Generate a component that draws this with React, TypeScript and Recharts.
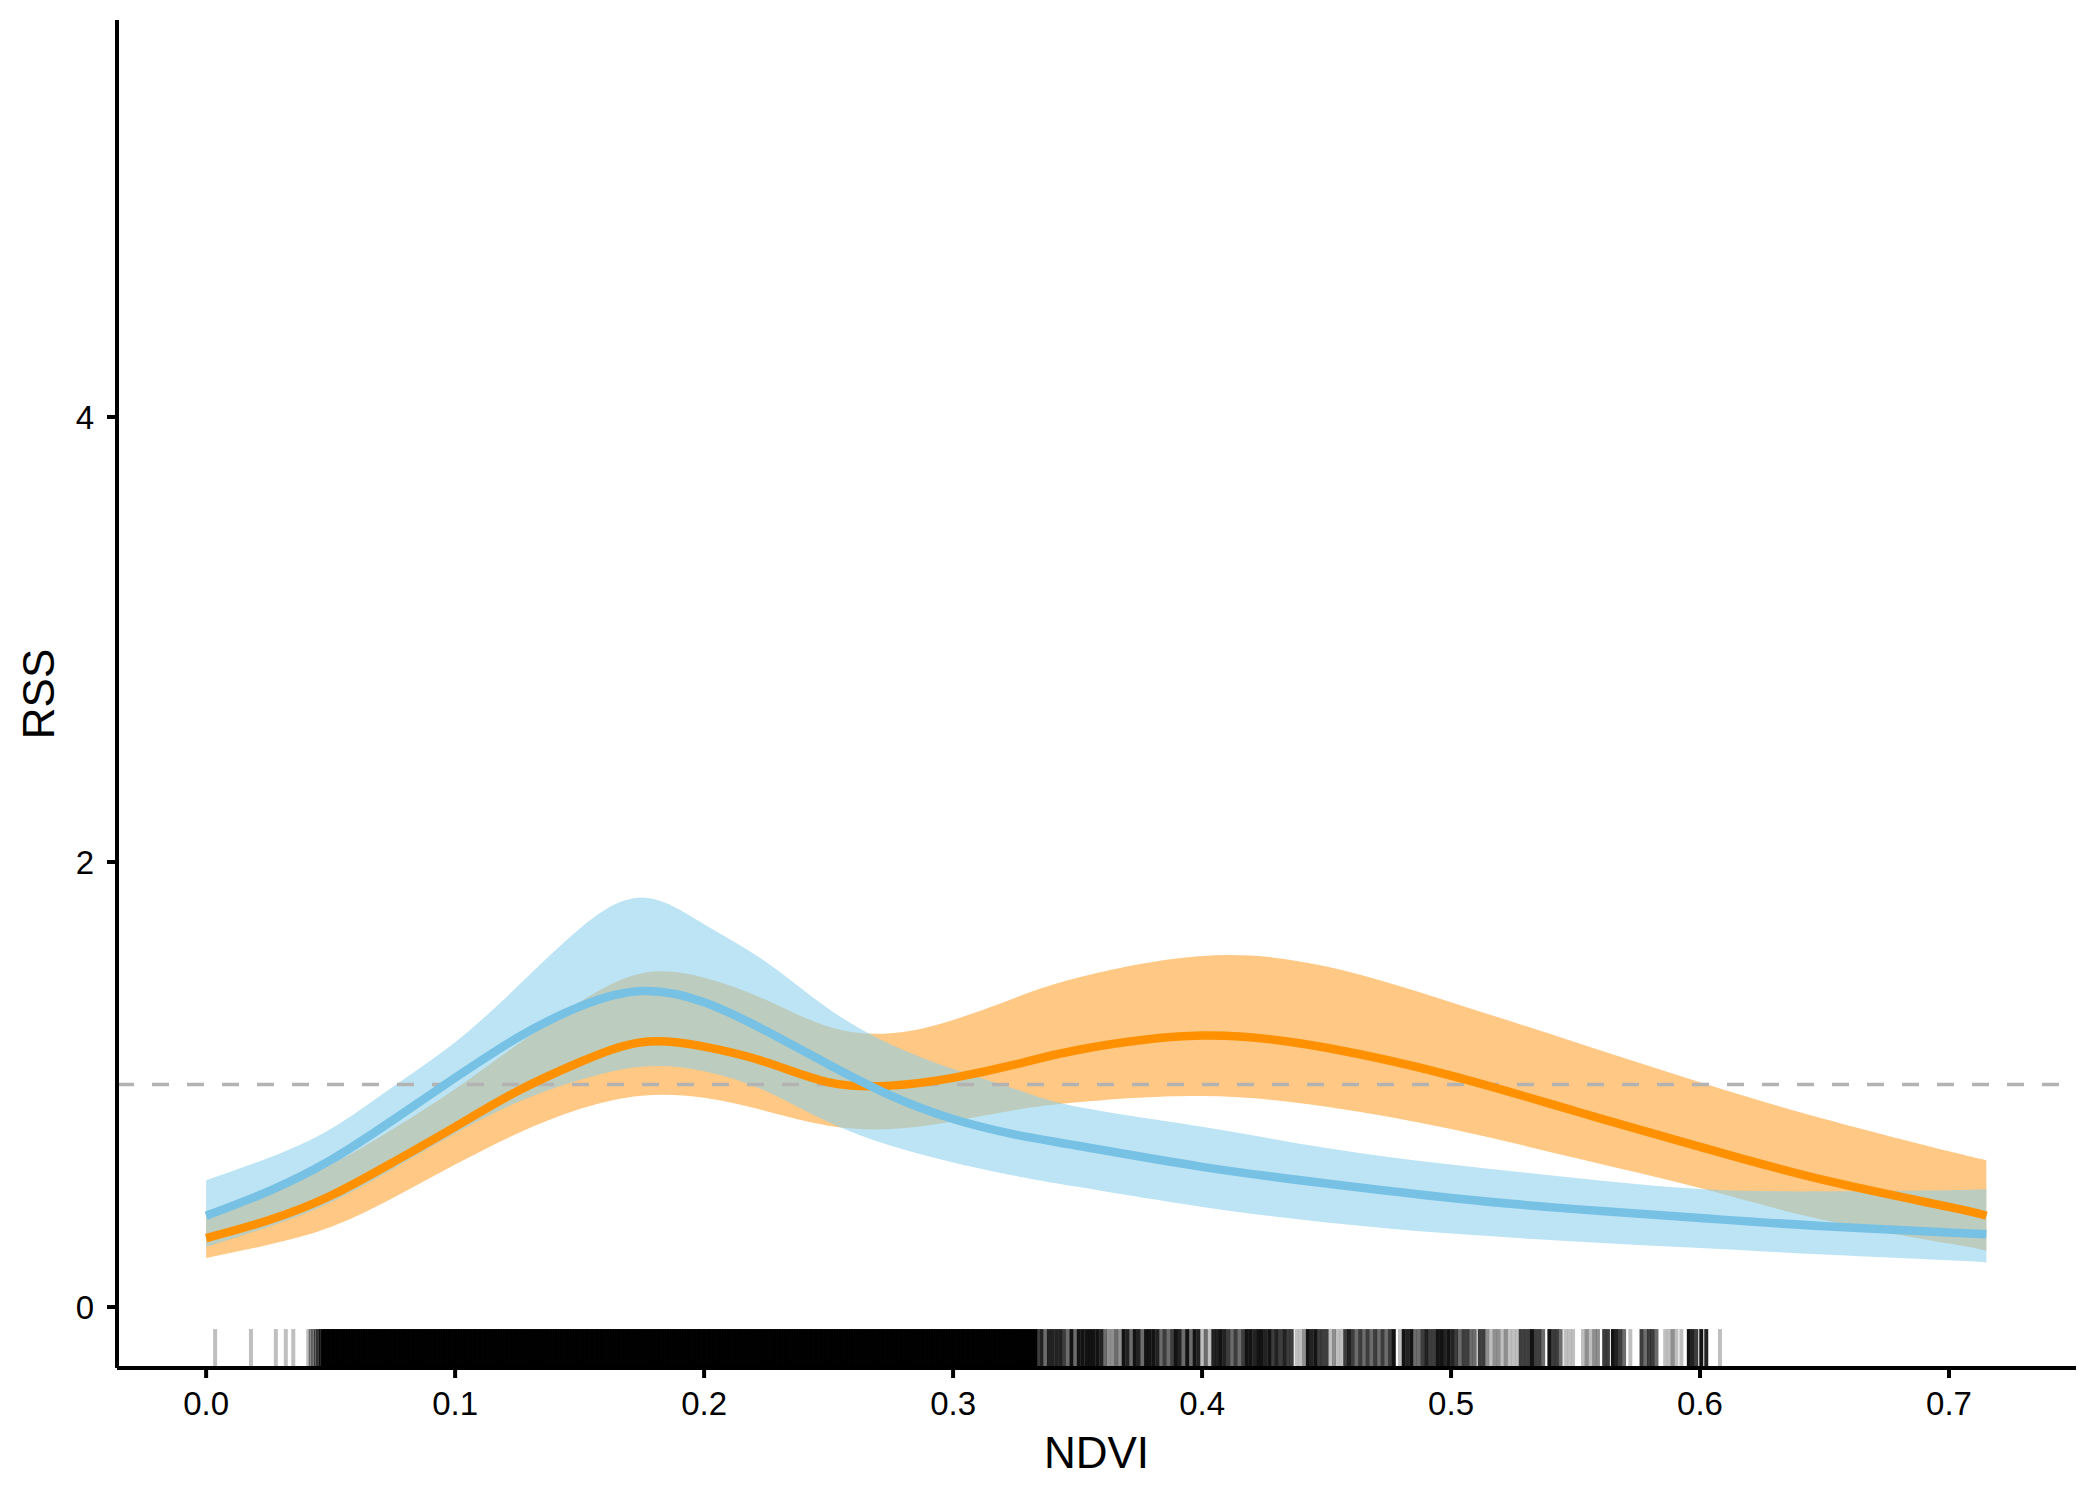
import { ComposedChart, Area, Line, XAxis, YAxis, ReferenceLine } from "recharts";

// smooth fits (RSS vs NDVI), two groups
const ndvi = [0, 0.025, 0.05, 0.075, 0.1, 0.125, 0.15, 0.175, 0.2, 0.225, 0.25, 0.275, 0.3, 0.325, 0.35, 0.4, 0.45, 0.5, 0.55, 0.6, 0.65, 0.7, 0.715];

const blueFit = [0.41, 0.52, 0.66, 0.84, 1.03, 1.21, 1.35, 1.42, 1.37, 1.24, 1.09, 0.95, 0.845, 0.775, 0.725, 0.63, 0.555, 0.49, 0.44, 0.4, 0.363, 0.335, 0.327];
const blueLow = [0.27, 0.36, 0.47, 0.62, 0.78, 0.92, 1.02, 1.08, 1.06, 0.97, 0.83, 0.725, 0.65, 0.59, 0.54, 0.45, 0.38, 0.33, 0.295, 0.265, 0.236, 0.21, 0.2];
const blueHigh = [0.57, 0.67, 0.8, 0.99, 1.19, 1.44, 1.7, 1.84, 1.72, 1.55, 1.34, 1.18, 1.07, 0.98, 0.9, 0.81, 0.715, 0.64, 0.58, 0.53, 0.52, 0.525, 0.53];

const orangeFit = [0.31, 0.39, 0.5, 0.65, 0.81, 0.97, 1.1, 1.19, 1.17, 1.1, 1.01, 0.995, 1.03, 1.09, 1.155, 1.22, 1.165, 1.04, 0.88, 0.72, 0.57, 0.45, 0.41];
const orangeLow = [0.22, 0.28, 0.36, 0.49, 0.64, 0.78, 0.89, 0.95, 0.94, 0.88, 0.815, 0.8, 0.835, 0.885, 0.92, 0.948, 0.9, 0.8, 0.67, 0.535, 0.39, 0.285, 0.253];
const orangeHigh = [0.43, 0.52, 0.64, 0.8, 0.98, 1.18, 1.37, 1.5, 1.48, 1.38, 1.26, 1.23, 1.29, 1.39, 1.48, 1.578, 1.53, 1.37, 1.19, 1.01, 0.845, 0.7, 0.66];

const refLevel = 1;
const xTicks = [0, 0.1, 0.2, 0.3, 0.4, 0.5, 0.6, 0.7];
const yTicks = [0, 2, 4];
const xDomain: [number, number] = [-0.0358, 0.751];
const yDomain: [number, number] = [-0.274, 5.784];
const rugTop = -0.099;

// rug: [ndvi, number of observations drawn on top of each other]
const rugLeft: [number, number][] = [
  [0.0036, 1], [0.018, 1], [0.028, 1], [0.032, 1], [0.035, 1],
  [0.041, 1], [0.042, 2], [0.043, 2], [0.044, 3], [0.045, 4], [0.046, 6],
];
// saturated part of the rug, in thousandths of NDVI
const rugDenseMilli = [
  47, 48, 49, 50, 51, 52, 53, 54, 55, 56, 57, 58, 59, 60, 61, 62, 63, 64, 65, 66,
  67, 68, 69, 70, 71, 72, 73, 74, 75, 76, 77, 78, 79, 80, 81, 82, 83, 84, 85, 86,
  87, 88, 89, 90, 91, 92, 93, 94, 95, 96, 97, 98, 99, 100, 101, 102, 103, 104, 105, 106,
  107, 108, 109, 110, 111, 112, 113, 114, 115, 116, 117, 118, 119, 120, 121, 122, 123, 124, 125, 126,
  127, 128, 129, 130, 131, 132, 133, 134, 135, 136, 137, 138, 139, 140, 141, 142, 143, 144, 145, 146,
  147, 148, 149, 150, 151, 152, 153, 154, 155, 156, 157, 158, 159, 160, 161, 162, 163, 164, 165, 166,
  167, 168, 169, 170, 171, 172, 173, 174, 175, 176, 177, 178, 179, 180, 181, 182, 183, 184, 185, 186,
  187, 188, 189, 190, 191, 192, 193, 194, 195, 196, 197, 198, 199, 200, 201, 202, 203, 204, 205, 206,
  207, 208, 209, 210, 211, 212, 213, 214, 215, 216, 217, 218, 219, 220, 221, 222, 223, 224, 225, 226,
  227, 228, 229, 230, 231, 232, 233, 234, 235, 236, 237, 238, 239, 240, 241, 242, 243, 244, 245, 246,
  247, 248, 249, 250, 251, 252, 253, 254, 255, 256, 257, 258, 259, 260, 261, 262, 263, 264, 265, 266,
  267, 268, 269, 270, 271, 272, 273, 274, 275, 276, 277, 278, 279, 280, 281, 282, 283, 284, 285, 286,
  287, 288, 289, 290, 291, 292, 293, 294, 295, 296, 297, 298, 299, 300, 301, 302, 303, 304, 305, 306,
  307, 308, 309, 310, 311, 312, 313, 314, 315, 316, 317, 318, 319, 320, 321, 322, 323, 324, 325, 326,
  327, 328, 329, 330, 331, 332, 333,
];
const rugDenseCount = 16;
const rugRight: [number, number][] = [
  [0.334, 5], [0.3355, 7], [0.337, 3], [0.3385, 7], [0.34, 7], [0.3415, 7], [0.343, 7], [0.3445, 5],
  [0.346, 3], [0.3475, 9], [0.349, 3], [0.3505, 9], [0.352, 9], [0.3535, 9], [0.355, 9], [0.3565, 9],
  [0.358, 9], [0.3595, 7], [0.361, 3], [0.3625, 2], [0.364, 2], [0.3655, 3], [0.367, 2], [0.3685, 9],
  [0.37, 7], [0.3715, 3], [0.373, 9], [0.3745, 7], [0.376, 3], [0.3775, 9], [0.379, 9], [0.3805, 9],
  [0.382, 7], [0.3835, 3], [0.385, 5], [0.3865, 3], [0.388, 5], [0.3895, 9], [0.391, 7], [0.3925, 3],
  [0.394, 9], [0.3955, 3], [0.397, 9], [0.3985, 7], [0.4, 1], [0.4015, 3], [0.403, 1], [0.4045, 7],
  [0.406, 7], [0.4075, 9], [0.409, 7], [0.4105, 5], [0.412, 3], [0.4135, 5], [0.415, 3], [0.4165, 5],
  [0.418, 9], [0.4195, 9], [0.421, 7], [0.4225, 9], [0.424, 9], [0.4255, 7], [0.427, 9], [0.4285, 5],
  [0.43, 7], [0.4315, 5], [0.433, 7], [0.4345, 5], [0.436, 5], [0.438, 1], [0.4395, 1], [0.441, 2],
  [0.4425, 9], [0.444, 7], [0.4455, 9], [0.447, 5], [0.4485, 5], [0.45, 5], [0.4515, 1], [0.453, 2],
  [0.4545, 1], [0.456, 1], [0.4575, 5], [0.459, 7], [0.4605, 5], [0.462, 3], [0.4635, 5], [0.465, 3],
  [0.4665, 5], [0.468, 3], [0.4695, 5], [0.471, 3], [0.4725, 5], [0.474, 3], [0.4755, 5], [0.477, 9],
  [0.4795, 1], [0.481, 9], [0.4825, 7], [0.484, 9], [0.4855, 3], [0.487, 3], [0.4885, 5], [0.49, 7],
  [0.4915, 5], [0.493, 5], [0.4945, 9], [0.496, 9], [0.4975, 7], [0.499, 9], [0.5005, 7], [0.502, 5],
  [0.5035, 3], [0.505, 5], [0.5065, 5], [0.508, 3], [0.5095, 3], [0.5115, 5], [0.513, 5], [0.5145, 2],
  [0.516, 1], [0.5175, 2], [0.519, 2], [0.5205, 1], [0.522, 2], [0.5235, 1], [0.525, 1], [0.5265, 1],
  [0.528, 5], [0.5295, 5], [0.531, 5], [0.5325, 9], [0.534, 5], [0.5355, 5], [0.537, 3], [0.5395, 9],
  [0.541, 5], [0.5425, 5], [0.544, 3], [0.546, 1], [0.5475, 1], [0.549, 1], [0.553, 1], [0.5545, 2],
  [0.556, 1], [0.5575, 2], [0.559, 2], [0.5615, 5], [0.563, 5], [0.565, 9], [0.5665, 7], [0.568, 5],
  [0.5695, 3], [0.572, 1], [0.5765, 5], [0.578, 3], [0.5795, 5], [0.581, 5], [0.5825, 3], [0.586, 1],
  [0.5875, 1], [0.589, 2], [0.5905, 1], [0.5925, 1], [0.5955, 9], [0.597, 7], [0.5985, 5], [0.6005, 9],
  [0.6025, 7], [0.608, 1],
];

const FONT = "'Liberation Sans', Arial, Helvetica, sans-serif";
const RUG_ALPHA = 0.25;

const data = ndvi.map((x, i) => ({
  ndvi: x,
  blueFit: blueFit[i],
  blueBand: [blueLow[i], blueHigh[i]],
  orangeFit: orangeFit[i],
  orangeBand: [orangeLow[i], orangeHigh[i]],
}));

const refData = [
  { ndvi: xDomain[0], rss: refLevel },
  { ndvi: xDomain[1], rss: refLevel },
];

const rug: [number, number][] = [
  ...rugLeft,
  ...rugDenseMilli.map((m) => [m / 1000, rugDenseCount] as [number, number]),
  ...rugRight,
];

export default function App() {
  return (
    <div style={{ position: "absolute", left: 0, top: 0, width: 2100, height: 1500, background: "#fff" }}>
      <ComposedChart width={2100} height={1500} data={data} margin={{ top: 20, right: 24, bottom: 0, left: 0 }}>
        <XAxis
          dataKey="ndvi"
          type="number"
          domain={xDomain}
          allowDataOverflow
          ticks={xTicks}
          tickFormatter={(v: number) => v.toFixed(1)}
          height={132}
          tickSize={10}
          tickMargin={14}
          axisLine={{ stroke: "#000", strokeWidth: 4 }}
          tickLine={{ stroke: "#000", strokeWidth: 4 }}
          tick={{ fill: "#000", fontSize: 33, fontFamily: FONT }}
          label={{ value: "NDVI", position: "insideBottom", offset: 32, fill: "#000", fontSize: 44, fontFamily: FONT }}
        />
        <YAxis
          type="number"
          domain={yDomain}
          allowDataOverflow
          ticks={yTicks}
          width={117}
          tickSize={10}
          tickMargin={13}
          axisLine={{ stroke: "#000", strokeWidth: 4 }}
          tickLine={{ stroke: "#000", strokeWidth: 4 }}
          tick={{ fill: "#000", fontSize: 33, fontFamily: FONT }}
          label={{
            value: "RSS",
            angle: -90,
            position: "insideLeft",
            offset: 38,
            fill: "#000",
            fontSize: 44,
            fontFamily: FONT,
            style: { textAnchor: "middle" },
          }}
        />
        <Line
          data={refData}
          dataKey="rss"
          type="linear"
          stroke="#b3b3b3"
          strokeWidth={3.5}
          strokeDasharray="17 18"
          dot={false}
          activeDot={false}
          isAnimationActive={false}
        />
        <Area
          dataKey="orangeBand"
          type="natural"
          stroke="none"
          fill="#ff8c00"
          fillOpacity={0.48}
          isAnimationActive={false}
        />
        <Area
          dataKey="blueBand"
          type="natural"
          stroke="none"
          fill="#87ceeb"
          fillOpacity={0.56}
          isAnimationActive={false}
        />
        <Line dataKey="orangeFit" type="natural" stroke="#ff9100" strokeWidth={8.5} dot={false} activeDot={false} isAnimationActive={false} />
        <Line dataKey="blueFit" type="natural" stroke="#77c1e5" strokeWidth={8.5} dot={false} activeDot={false} isAnimationActive={false} />
        {rug.map(([x, n], i) => (
          <ReferenceLine
            key={"rug" + i}
            segment={[
              { x, y: yDomain[0] },
              { x, y: rugTop },
            ]}
            stroke="#000"
            strokeWidth={4}
            strokeOpacity={1 - Math.pow(1 - RUG_ALPHA, n)}
            ifOverflow="visible"
          />
        ))}
      </ComposedChart>
    </div>
  );
}
